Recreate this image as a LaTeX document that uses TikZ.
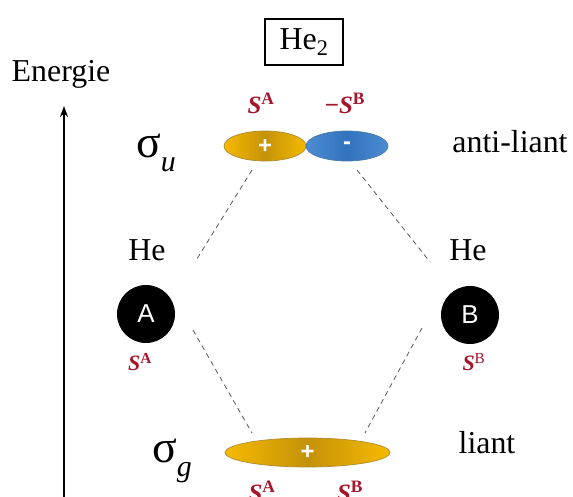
\documentclass[tikz,border=0pt]{standalone}
\usepackage{fontspec}
\setmainfont{Liberation Serif}
\newfontfamily\arialf{Liberation Sans}
\usetikzlibrary{arrows.meta,shapes.geometric}
\definecolor{sred}{RGB}{165,22,42}
\definecolor{goldA}{RGB}{246,186,0}
\definecolor{goldB}{RGB}{196,146,10}
\definecolor{blueA}{RGB}{75,140,210}
\definecolor{blueB}{RGB}{50,115,190}
\newcommand{\Slab}[1]{\textcolor{sred}{\textbf{\textit{S}}\textsuperscript{\textbf{#1}}}}
\tikzset{
  txt/.style={inner sep=0pt, font=\fontsize{32}{32}\selectfont},
  slab/.style={inner sep=0pt, font=\fontsize{25}{25}\selectfont},
  sslab/.style={inner sep=0pt, font=\fontsize{22}{22}\selectfont},
  atom/.style={circle, fill=black, minimum size=58bp, inner sep=0pt, text=white, font=\arialf\fontsize{26}{26}\selectfont},
  orbY/.style={ellipse, draw=goldB!70!gray, line width=0.7bp, left color=goldA, right color=goldA, middle color=goldB, inner sep=0pt, text=white, font=\arialf\bfseries\fontsize{24}{24}\selectfont},
  orbB/.style={ellipse, draw=blueB!70!gray, line width=0.7bp, left color=blueA, right color=blueA, middle color=blueB, inner sep=0pt, text=white, font=\arialf\bfseries\fontsize{24}{24}\selectfont},
  corr/.style={draw=black!65, line width=0.8bp, dash pattern=on 5bp off 4bp},
}
\begin{document}
\begin{tikzpicture}[x=1bp,y=-1bp]
\useasboundingbox[fill=white] (0,0) rectangle (573,497);
% title
\node[draw, line width=1.2bp, minimum width=78bp, minimum height=46bp, inner sep=0pt, font=\fontsize{32}{32}\selectfont] (mol) at (304,42) {He\textsubscript{2}};
% energy axis
\coordinate (eb) at (64,497);
\coordinate (et) at (64,106);
\draw[line width=2bp, -{Stealth[length=11bp,width=8bp]}] (eb) -- (et);
\node[txt] (en) at (61,74) {Energie};
% top orbitals
\node[orbY, minimum width=82bp, minimum height=30bp] (ya) at (265,146) {+};
\node[orbB, minimum width=82bp, minimum height=30bp] (yb) at (347,146) {-};
\node[slab] (sa1) at (261,103) {\Slab{A}};
\node[slab] (sb1) at (345,103) {\textcolor{sred}{\textbf{−}}\Slab{B}};
\node[txt] (su) at (156,153) {\fontsize{46}{46}\selectfont σ\raisebox{-0.3em}{\fontsize{30}{30}\selectfont\itshape u}};
\node[txt] (al) at (510,142) {anti-liant};
% atoms
\node[txt] (hea) at (147,250) {He};
\node[txt] (heb) at (468,250) {He};
\node[atom] (A) at (146,314) {A};
\node[atom] (B) at (470,315) {B};
\node[sslab] (sa2) at (140,362) {\Slab{A}};
\node[sslab] (sb2) at (474,362) {\textcolor{sred}{\textbf{\textit{S}}\textsuperscript{B}}};
% bottom orbital
\node[orbY, minimum width=165bp, minimum height=29bp] (g) at (307.5,452.5) {+};
\node[txt] (li) at (487,443) {liant};
\node[txt] (sg) at (172,461) {\fontsize{46}{46}\selectfont σ\raisebox{-0.3em}{\fontsize{30}{30}\selectfont\itshape g}};
\node[slab] (sa3) at (262,491) {\Slab{A}};
\node[slab] (sb3) at (350,491) {\Slab{B}};
% correlation lines
\coordinate (tl1) at (252,170); \coordinate (tl2) at (195,262);
\coordinate (tr1) at (357,170); \coordinate (tr2) at (430,262);
\coordinate (bl1) at (193,330); \coordinate (bl2) at (252,433);
\coordinate (br1) at (422,328); \coordinate (br2) at (365,433);
\draw[corr] (tl1) -- (tl2);
\draw[corr] (tr1) -- (tr2);
\draw[corr] (bl1) -- (bl2);
\draw[corr] (br1) -- (br2);
\end{tikzpicture}
\end{document}
